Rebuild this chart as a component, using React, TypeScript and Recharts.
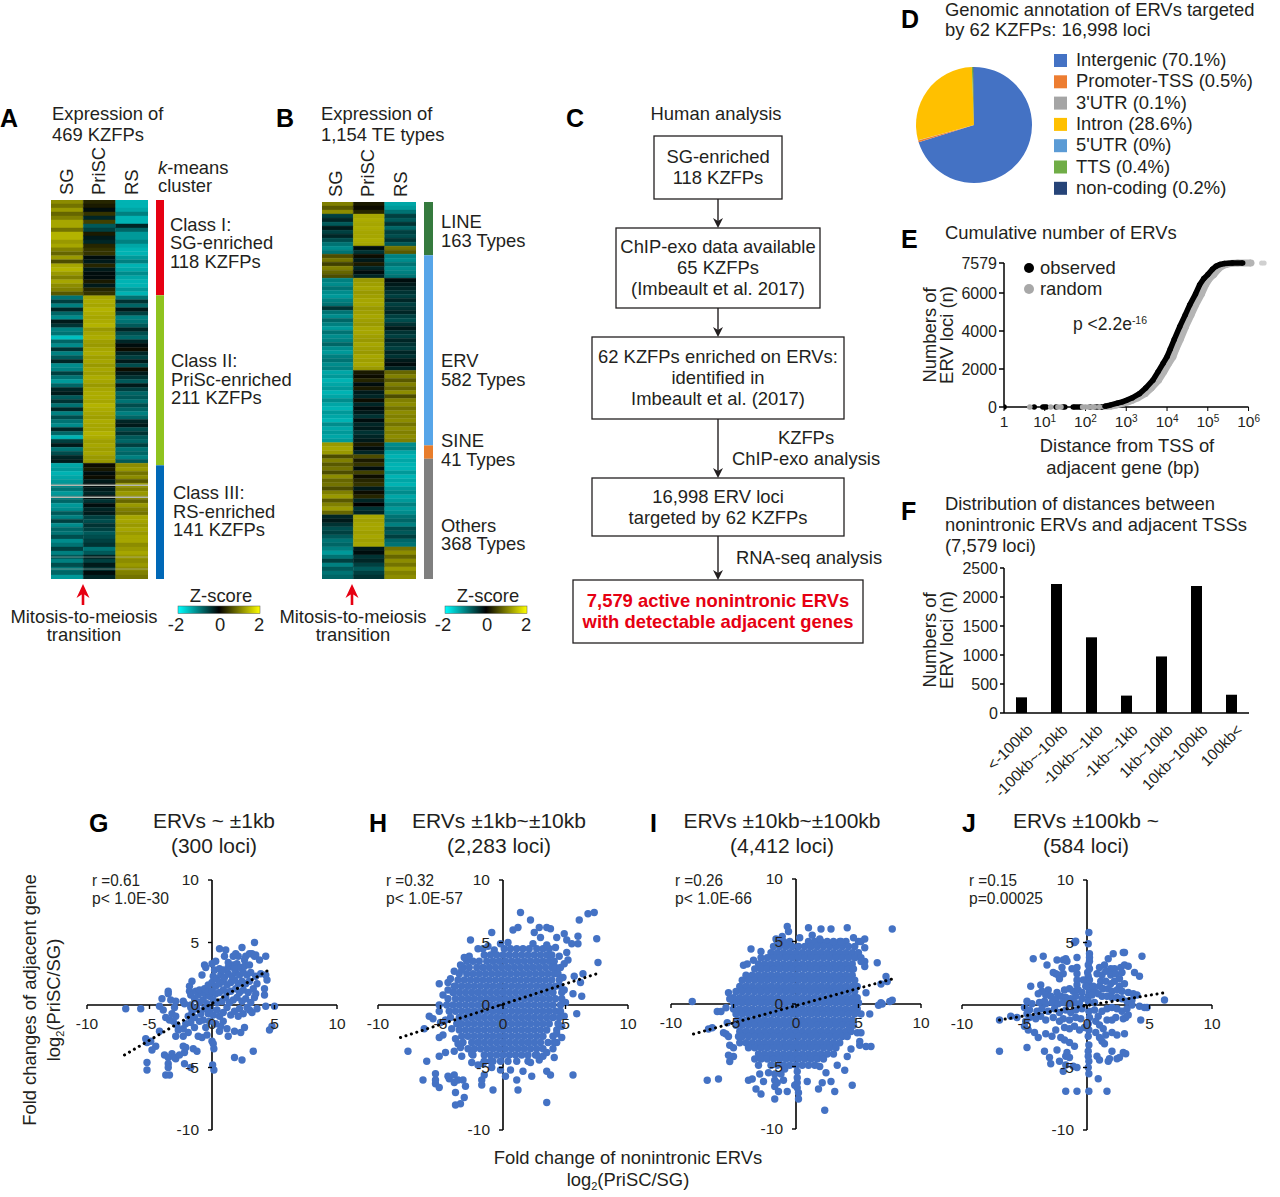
import React from 'react';
import {
  Bar, BarChart, Cell, Pie, PieChart, ReferenceLine, Scatter, ScatterChart, XAxis, YAxis,
} from 'recharts';

const FONT = '"Liberation Sans", Arial, sans-serif';
const INK = '#231f20';
const BLUE = '#4472c4';

// heatmap z-scores, top to bottom
const heatA_SG = [1.1,0.9,1.2,0.8,1.0,1.3,1.3,0.9,1.4,1.4,1.2,1.3,1.0,0.8,1.2,0.6,1.3,1.4,1.2,1.0,1.3,1.1,1.0,0.7,
  -0.9,-0.5,-1.0,-0.3,-0.8,-1.1,-0.2,-0.4,-1.0,-0.9,-1.5,-0.8,-1.1,-0.4,-1.0,-0.7,-0.3,-1.1,-1.0,-0.5,-0.9,-1.2,-0.8,-0.3,-0.2,-0.7,-0.4,-0.9,-0.3,-1.0,-0.6,-0.9,-1.1,-0.3,-0.8,-1.4,-0.5,-0.2,-0.9,-0.6,-0.3,-0.2,
  -1.3,-1.2,-1.4,-1.3,-1.2,-1.1,-0.9,-1.2,-1.0,-0.8,-1.2,-1.1,-0.7,-1.0,-0.5,-1.1,-0.8,-0.9,-0.6,-1.1,-0.9,-0.5,-1.0,-0.7,-1.0,-0.6,-0.9,-0.8,-1.2];
const heatA_PriSC = [0.3,0.2,-0.1,0.4,-0.3,0.5,-0.7,-0.5,0.2,-0.2,-0.3,0.3,0.4,0.4,-0.1,-0.2,0.3,-0.2,-0.1,-0.1,0.2,-0.2,0.3,0.4,
  1.3,1.35,1.3,1.4,1.35,1.3,1.35,1.4,1.2,1.3,1.35,1.25,1.2,1.3,1.35,1.25,1.3,1.2,1.3,1.25,1.35,1.3,1.2,1.3,1.35,1.35,1.3,1.4,1.35,1.3,1.25,1.35,1.3,1.3,1.4,1.35,1.25,1.3,1.25,1.3,1.2,1.2,
  0.1,0.2,-0.1,0.1,-0.2,-0.1,-0.2,-0.3,-0.1,-0.4,-0.1,-0.3,-0.2,-0.5,-0.6,-0.4,-0.5,-0.7,-0.6,-0.5,-0.4,-0.9,-0.7,-0.3,-0.5,-0.2,-0.4,-0.1,-0.3];
const heatA_RS = [-1.4,-1.4,-1.3,-1.0,-1.4,-1.4,-0.3,-0.8,-1.2,-1.2,-1.0,-1.3,-1.4,-1.4,-1.2,-1.0,-1.4,-1.3,-1.1,-1.3,-1.4,-1.4,-1.2,-1.4,
  -0.9,-0.4,-0.8,-0.2,-0.5,-1.0,-0.9,-0.7,-0.3,-0.6,-0.8,-0.3,-0.1,0.1,-0.3,-0.5,-0.2,-0.6,0.1,-0.2,-0.4,-0.7,-0.2,-0.5,-0.8,-0.7,-0.9,-0.6,-0.8,-1.0,-0.8,-0.3,-0.2,-0.6,-0.4,-0.7,-0.8,-0.5,-0.9,-0.8,-1.0,-0.7,
  1.1,1.2,0.9,1.1,0.7,1.2,1.0,1.2,1.1,0.8,1.2,1.0,0.9,1.3,1.3,1.2,1.3,1.2,1.3,1.3,1.1,1.2,1.3,1.2,1.1,1.2,1.1,1.0,0.9];
const heatB_SG = [1.0,0.7,1.1,
  -0.5,-0.3,-0.7,-0.2,-0.5,-0.3,-0.6,-0.9,-1.1,-0.9,
  0.6,0.9,0.5,1.0,0.8,0.6,
  -1.0,-1.1,-0.9,-1.1,-1.2,-1.0,-0.9,-0.4,-0.9,-1.1,-0.8,-1.0,-1.2,-0.9,-1.1,-1.0,-0.8,-1.1,-1.2,-1.0,-0.9,-1.1,-1.0,
  -1.3,-1.2,-1.4,-1.3,-1.2,-1.4,-1.3,-1.1,-1.3,-1.4,-1.2,-1.3,-1.4,-1.1,-1.3,-1.2,-1.3,-1.2,
  1.2,1.3,1.2,0.6,1.0,0.7,0.9,0.6,1.1,0.8,0.9,0.6,1.0,1.2,0.7,1.0,1.2,0.8,
  -0.3,-0.2,-0.4,-0.6,-0.5,-0.7,-0.9,-0.8,
  -1.0,-1.2,-0.9,-0.5,-1.0,-0.7,-0.9,-0.8];
const heatB_PriSC = [0.2,0.1,0.3,
  1.3,1.35,1.3,1.35,1.3,1.3,1.35,1.3,-0.1,-0.4,
  0.1,-0.2,0.2,-0.3,-0.1,-0.3,
  1.2,1.25,1.3,1.2,1.25,1.3,1.3,1.2,1.25,1.3,1.25,1.2,1.3,1.3,1.25,1.2,1.3,1.25,1.2,1.3,1.25,1.3,1.2,
  0.2,0.1,0.3,-0.1,0.2,-0.2,-0.3,0.1,-0.3,-0.1,-0.2,-0.4,-0.1,-0.3,-0.2,-0.4,-0.3,-0.2,
  0.2,-0.1,-0.3,0.6,0.2,0.4,-0.1,0.5,0.1,0.3,0.4,-0.2,0.1,0.3,-0.3,0.0,-0.4,-0.3,
  1.3,1.25,1.3,1.3,1.25,1.3,1.25,1.3,
  -0.2,-0.1,-0.4,-0.3,-0.5,-0.7,-0.5,-0.4];
const heatB_RS = [-1.3,-1.2,-0.9,
  -0.5,-0.7,-0.4,-0.8,-0.5,-0.6,-0.4,-0.7,0.9,0.7,
  -1.0,-1.1,-0.9,-1.1,-1.0,-0.9,
  -0.1,-0.2,-0.3,-0.4,-0.5,-0.3,-0.5,-0.4,-0.3,-0.5,-0.6,-0.4,-0.2,-0.4,-0.5,-0.3,-0.4,-0.5,-0.3,-0.4,-0.2,-0.1,-0.3,
  0.8,1.0,0.7,1.0,0.8,1.1,0.6,1.0,1.1,0.9,1.1,1.0,1.1,0.9,1.1,1.0,1.1,1.0,
  -1.1,-1.0,-1.3,-1.4,-1.3,-1.4,-1.4,-1.2,-1.4,-1.3,-1.4,-1.2,-1.1,-1.3,-1.2,-1.0,-1.2,-1.1,
  -0.9,-0.8,-1.0,-0.6,-0.7,-0.5,-0.8,-0.9,
  0.9,1.1,0.8,1.1,0.9,1.2,1.0,1.1];
const grayRowsA = [71, 74];
const fadedRowsA = [89, 92];
const sideBarsA = [{ name: 'Class I', value: 118, fill: '#e60012' }, { name: 'Class II', value: 211, fill: '#8fc31f' }, { name: 'Class III', value: 141, fill: '#0068b7' }];
const sideBarsB = [{ name: 'LINE', value: 163, fill: '#357a3e' }, { name: 'ERV', value: 582, fill: '#57a5e8' }, { name: 'SINE', value: 41, fill: '#e87d2c' }, { name: 'Others', value: 368, fill: '#7f7f7f' }];

// panel D
const pieNames = ['Intergenic', 'Promoter-TSS', "3'UTR", 'Intron', "5'UTR", 'TTS', 'non-coding'];
const pieValues = [70.1, 0.5, 0.1, 28.6, 0, 0.4, 0.2];
const pieLabels = ['70.1%', '0.5%', '0.1%', '28.6%', '0%', '0.4%', '0.2%'];
const pieColors = ['#4472c4', '#ed7d31', '#a5a5a5', '#ffc000', '#5b9bd5', '#70ad47', '#264478'];

// panel E
const observedCurve = [[300,40],[400,100],[600,200],[800,270],[1000,350],[1400,480],[2100,700],[3000,1000],[4500,1410],[6000,1850],[8000,2300],[10000,2650],[12000,3050],[15000,3550],[20500,4230],[28000,4850],[36000,5370],[50000,5950],[63000,6430],[80000,6760],[100000,6970],[130000,7250],[160000,7410],[200000,7500],[257000,7550],[400000,7579],[720000,7579]];
const randomCurve = [[400,40],[560,100],[830,200],[1100,270],[1400,350],[1900,480],[2900,700],[4100,1000],[6200,1410],[8300,1850],[11000,2300],[14000,2650],[16500,3050],[21000,3550],[28500,4230],[39000,4850],[50000,5370],[70000,5950],[88000,6430],[110000,6760],[140000,6970],[180000,7250],[220000,7410],[280000,7500],[350000,7550],[540000,7579],[1150000,7579]];
const observedBaseline = [1, 5.5, 9, 10, 11, 19, 28, 31, 50, 55, 62, 70, 78, 130, 175, 200, 240, 260];
const randomBaseline = [4.3, 14, 21, 25, 85, 100, 120, 145, 165, 220, 290, 340];
const randomTail = [1200000, 2100000, 2400000];
const distTicks = [1, 10, 100, 1000, 10000, 100000, 1000000];
const lociTicks = [0, 2000, 4000, 6000, 7579];
const distAxisEnds = [{ x: 1, y: 0 }, { x: 1000000, y: 0 }];

// panel F
const distCategories = ['<-100kb', '-100kb~-10kb', '-10kb~-1kb', '-1kb~-1kb', '1kb~10kb', '10kb~100kb', '100kb<'];
const distCounts = [270, 2225, 1305, 300, 975, 2190, 315];
const countTicks = [0, 500, 1000, 1500, 2000, 2500];

// panels G-J, log2 fold changes [ERV, adjacent gene]
const foldTicks = [-10, -5, 0, 5, 10];
const pointsG = [[-6.9,-.3],[-5.7,-.3],[-4,.5],[-3.5,1.1],[-3.5,.9],[-4.2,-.1],[-3.9,-.4],[-3.3,.4],[-2.9,.3],[-3,-.2],[-2.3,.3],[-1.8,1.5],[-1.8,1.1],[-1.7,.8],[-2.2,.1],[-1.7,0],[-1.6,1.9],[-3.7,-1],[-3.4,-1.2],[-3.1,-1.3],[-2.9,-.9],[-3.2,-.7],[-5.3,-2.7],[-5.2,-3],[-4.9,-2.9],[-4.8,-3.6],[-5.2,-4.6],[-5.2,-5.2],[-4.2,-2.1],[-4.5,-3.3],[-3.8,-4],[-3.5,-4.2],[-3.5,-4.7],[-3.5,-5],[-3.7,-5.6],[-3.4,-5.6],[-3.2,-3.9],[-3,-4.2],[-2.9,-4.3],[-2.6,-4],[-2.2,-3.8],[-2.1,-3.4],[-2.3,-3.3],[-1.5,-3.5],[-1.2,-3.7],[-2.2,-4.7],[-1.7,-5],[-2.9,-2.5],[-2.7,-2],[-2.8,-1.6],[-2.3,-2.5],[-2.3,-1.9],[-1.9,-2.2],[-2.1,-1.5],[-1.7,-1.4],[-1.4,-1.8],[-1.4,-1],[-1,-1.3],[-1.1,-2.5],[-.8,-2.6],[-.9,-.7],[-.7,-1.2],[-.5,-1.8],[-.4,-2.4],[0,-2.9],[.1,-3.1],[.15,-3.5],[.05,-4.8],[.15,-5.2],[1.8,-4.2],[2.4,-4.4],[3.3,-3.7],[1.3,-2.5],[1.2,-1.9],[1.8,-2.1],[2.3,-2.2],[2.6,-1.8],[4.6,-2],[4.8,-1.7],[.6,-2.1],[.9,-1.3],[-1.6,-.6],[-1.9,-.9],[-1.2,-.3],[-1,.2],[-.7,.4],[-.4,.1],[-.1,-.3],[-.3,-.7],[.1,-.8],[.4,-.4],[.6,-.9],[.9,-.6],[1.2,-.2],[1.5,-.8],[1.8,-.5],[2.2,-.3],[2.5,-.7],[2.8,-.2],[3,-.4],[3.6,-.3],[2.1,-.9],[-1.4,.5],[-1.1,.8],[-.8,1],[-.5,.8],[-.2,.7],[.1,.4],[.4,.2],[.8,.3],[1.1,.6],[1.4,.2],[1.7,.4],[2,.6],[2.4,.3],[2.7,.5],[3.1,.2],[3.4,.6],[-1.3,1.1],[-1,1.2],[-.6,1.3],[-.3,1.1],[0,1.1],[.3,.9],[.6,1],[.9,1.2],[1.2,1],[1.5,1.1],[1.9,1.3],[2.2,1],[2.5,1.2],[2.9,1],[3.3,1.3],[3.5,.9],[4.2,.8],[4.2,1.3],[-.3,1.6],[0,1.8],[.3,1.5],[.6,1.7],[.9,1.9],[1.2,1.6],[1.5,1.8],[1.8,2],[2.1,1.7],[2.4,1.9],[2.7,1.7],[3,1.9],[3.6,1.7],[4.4,2],[4.3,2.4],[.1,2.3],[.4,2.1],[.7,2.4],[1,2.2],[1.3,2.5],[1.6,2.3],[1.9,2.6],[2.2,2.4],[2.5,2.6],[2.8,2.4],[3.1,2.6],[3.5,2.3],[3.9,2.5],[-.8,2.4],[.2,2.8],[.6,2.9],[.9,2.8],[1.3,3],[1.7,3.2],[2,3.3],[1.8,2.9],[2.3,3],[2.6,3.1],[3,3.2],[-.6,3.2],[-.5,3],[0,3.3],[.3,3.5],[1.3,3.4],[1,3.9],[.6,4.5],[1.1,4.4],[1.7,3.9],[1.9,4.1],[2.1,3.9],[2.4,4.6],[2.6,3.6],[2.7,3.9],[3,4.1],[3.2,4.1],[3.4,3.9],[3.5,4],[3.4,5],[3.8,3.6],[4.3,3.9],[5,-.1],[4.3,-.1],[3.2,-.6],[.7,-1.7],[.3,-1.5],[-.2,-1.3],[-.6,-.3],[-1.7,-.2]];
const outliersH = [[1.4,7.4],[2.2,6.8],[6.8,7.3],[7.3,7.4],[6.1,6.8],[.8,6],[1.2,6.2],[2.5,5.8],[2.9,6.2],[3.5,6.2],[3.8,6.1],[3,5.4],[4.9,5.7],[6,5.5],[7.5,5.3],[5.1,5.2],[4.3,5.4],[-.9,5.8],[-2.6,5.2],[.4,5],[-.2,4.9],[7.6,3.4],[6,4.9],[5.5,4.9],[5.1,4.2],[5.2,3.6],[4.9,3.3],[6.4,2.5],[5.7,2.3],[6.2,1.8],[5.6,.9],[5.9,-.7],[6.3,.7],[-5.1,1.7],[-4.4,1.8],[-3.9,1.5],[-4.8,.8],[-5.1,0],[-5.1,-.5],[-5.9,-.9],[-5.6,-1.1],[-5,-1.4],[-6.3,-1.9],[-5.1,-2.6],[-4.8,-2.4],[-7.6,-3.7],[-6.1,-4.5],[-5.1,-4.1],[-4.6,-3.8],[-3.9,-3.7],[-3.4,-3.4],[-3.3,-4.1],[-6.4,-6],[-5.4,-5.5],[-5.4,-6.3],[-5.4,-6],[-5.1,-6.6],[-3.9,-6.2],[-4.3,-5.9],[-4.4,-5.7],[-3.9,-5.6],[-3.6,-6],[-3,-6.5],[-3.2,-6],[-1.7,-6.4],[-1.7,-6],[-.8,-6.8],[-3.8,-7],[-3.1,-7.4],[-3.4,-7.9],[-3.8,-8],[-1.5,-5.6],[.2,-5.7],[1.1,-6],[1.2,-6.8],[2.3,-5.7],[3.5,-5.3],[3.8,-5.6],[5.6,-5.6],[3.5,-7.8],[-2.5,-4.6],[-2,-4.8],[-1.6,-4.7],[-.9,-5],[-.2,-5.2],[.6,-5.2],[1.6,-5.3],[2.2,-4.6],[2.9,-4.4],[3.2,-4.1],[4.1,-4.2],[4.3,-3],[4.1,-3],[4.3,-2.3],[4.7,-1.7],[-2.5,-3.9],[3.5,-3.8],[-2.7,3.9],[-3.1,3.8],[-3.4,3.2],[-3.9,2.7],[-4.2,2.1],[-4.4,1.2],[-4.6,-1.2],[-4.1,-1.9],[-3.8,-2.7],[-3.6,-3.1],[-1.2,4.7],[-.7,4.4],[2.4,4.9],[3.5,4.8],[4.2,4.6],[4.5,3.9],[4.6,3],[4.8,2.2],[4.9,1.2],[5,.2],[4.9,-.9],[4.7,-2.6],[4,-3.5],[2.7,-4],[-1,-4.5],[-3.3,2.8]];
const coreH: [number, number[]][] = [
  [4.5,[-2,-1.6,.1,.6,1.1,1.6,2.1,2.7,3.2,3.7]],
  [4,[-1.5,-1,-.5,0,.5,1,1.5,2,2.5,3,3.5,3.9]],
  [3.5,[-2.9,-2.4,-1.9,-1.3,-.8,-.3,.2,.7,1.2,1.7,2.2,2.7,3.2,3.7,4.1]],
  [3,[-3.2,-2.7,-2.1,-1.6,-1.1,-.6,-.1,.4,.9,1.4,1.9,2.4,2.9,3.4,3.9,4.2]],
  [2.5,[-3.5,-2.9,-2.4,-1.9,-1.4,-.9,-.4,.1,.6,1.1,1.6,2.1,2.6,3.1,3.6,4.1,4.4]],
  [2,[-3.6,-3.1,-2.6,-2.1,-1.6,-1.1,-.6,-.1,.4,.9,1.4,1.9,2.4,2.9,3.4,3.9,4.5]],
  [1.5,[-3.8,-3.3,-2.8,-2.3,-1.8,-1.3,-.8,-.3,.2,.7,1.2,1.7,2.2,2.7,3.2,3.7,4.2,4.6]],
  [1,[-4,-3.5,-3,-2.5,-2,-1.5,-1,-.5,0,.5,1,1.5,2,2.5,3,3.5,4,4.7]],
  [.5,[-4.4,-3.8,-3.3,-2.8,-2.3,-1.8,-1.3,-.8,-.3,.2,.7,1.2,1.7,2.2,2.7,3.2,3.7,4.2,4.7]],
  [0,[-4.5,-4,-3.5,-3,-2.5,-2,-1.5,-1,-.5,0,.5,1,1.5,2,2.5,3,3.5,4,4.6]],
  [-.5,[-4.3,-3.8,-3.3,-2.8,-2.3,-1.8,-1.3,-.8,-.3,.2,.7,1.2,1.7,2.2,2.7,3.2,3.7,4.2,4.6]],
  [-1,[-4.2,-3.5,-3,-2.5,-2,-1.5,-1,-.5,0,.5,1,1.5,2,2.5,3,3.5,4,4.5]],
  [-1.5,[-3.7,-3.3,-2.8,-2.3,-1.8,-1.3,-.8,-.3,.2,.7,1.2,1.7,2.2,2.7,3.2,3.7,4.4]],
  [-2,[-3.5,-3,-2.5,-2,-1.5,-1,-.5,0,.5,1,1.5,2,2.5,3,3.5,4.3]],
  [-2.5,[-3.3,-2.8,-2.3,-1.8,-1.3,-.8,-.3,.2,.7,1.2,1.7,2.2,2.7,3.2,4]],
  [-3,[-3.2,-2.5,-2,-1.5,-1,-.5,0,.5,1,1.5,2,2.5,3,3.6]],
  [-3.5,[-2.8,-2.3,-1.8,-1.3,-.8,-.3,.2,.7,1.2,1.7,2.2,2.7,3.2]],
  [-4,[-2.4,-1.5,-1,-.5,0,.5,1,1.5,2,2.6]],
  [-4.5,[-1.5,-.8,-.2,.4,1.1,2]],
];
const outliersI = [[-8.3,.2],[-6.3,-.6],[-6,-.6],[-5.5,-1.5],[-6.7,-1.9],[-7,-2],[-5.8,-2.3],[-5.6,-2.4],[-5.4,-2.6],[-5.3,-3.3],[-5,-3.5],[-5,-4.2],[-5.3,-4.6],[-5.4,-4.1],[-7.1,-6.1],[-6.2,-6],[-3.8,-6.1],[-3.5,-6],[-3.2,-6.8],[-2.8,-7.2],[-1.7,-7.6],[-.7,-7],[.2,-7.6],[.9,-6.2],[1.8,-6.8],[2.1,-6.3],[2.8,-6.2],[3.1,-7],[4.5,-6.5],[3.9,-5.3],[2.3,-8.5],[6,-3.4],[5.1,-3.3],[5.1,-3],[5.6,-3.4],[7.7,6],[1,6.1],[-.7,6.2],[-.6,5.8],[2,6],[2.8,6],[4.1,6.1],[-3.6,4.4],[5.5,5.2],[5.2,5],[5.5,4.5],[5.5,3.4],[5.2,3.4],[6.5,3.3],[5.5,3],[7.2,2.2],[7.3,1.8],[6.8,1.6],[5.6,.9],[6.6,-.1],[6.9,0],[7.7,.3],[7.5,.2],[6.8,.1],[5.2,-.8],[5.9,-.8],[4.9,-2.3],[5.2,-2.3],[4.4,-3.6],[4.1,-4.2],[3.3,-4.9],[2.4,-5.5],[1.9,-5],[.1,-5.4],[.1,-5.9],[.1,-6.3],[.1,-6.7],[.2,-7.1],[-.1,-6.5],[-1.7,-5.6],[-1.7,-6.1],[-1.7,-6.6],[-1.4,-7],[-1.5,-6.3],[-1,-6.1],[-1.2,-5.6],[-.9,-5.2],[-2.2,-5.5],[-2.6,-6.2],[-2.9,-5.6],[-5.6,-.3],[-5.4,.9],[-5.3,.4],[-4.2,3.1],[-3.9,3.2],[-3.4,3.5],[-2.8,4.2],[-1.6,5.2],[-1.1,5.4],[.3,5.3],[1.3,5.5],[1.9,5.2],[3,5],[3.6,5],[4.6,5.3]];
const coreI: [number, number[]][] = [
  [5,[-1.5,-1,-.5,1,1.5,2,2.5,3.5,4,5]],
  [4.6,[-1.8,-1.3,-.8,-.3,.2,.7,1.2,1.7,2.2,2.7,3.2,3.7,4.2,4.7]],
  [4.1,[-2,-1.5,-1,-.5,0,.5,1,1.5,2,2.5,3,3.5,4,4.5,5]],
  [3.7,[-2.8,-2.3,-1.8,-1.3,-.8,-.3,.2,.7,1.2,1.7,2.2,2.7,3.2,3.7,4.2,4.7,5.2]],
  [3.2,[-3,-2.5,-2,-1.5,-1,-.5,0,.5,1,1.5,2,2.5,3,3.5,4,4.5]],
  [2.8,[-3.3,-2.8,-2.3,-1.8,-1.3,-.8,-.3,.2,.7,1.2,1.7,2.2,2.7,3.2,3.7,4.2,4.6]],
  [2.3,[-4,-3.5,-3,-2.5,-2,-1.5,-1,-.5,0,.5,1,1.5,2,2.5,3,3.5,4,4.5]],
  [1.9,[-4.3,-3.8,-3.3,-2.8,-2.3,-1.8,-1.3,-.8,-.3,.2,.7,1.2,1.7,2.2,2.7,3.2,3.7,4.2,4.7]],
  [1.4,[-4.5,-4,-3.5,-3,-2.5,-2,-1.5,-1,-.5,0,.5,1,1.5,2,2.5,3,3.5,4,4.5,4.9]],
  [1,[-4.8,-4.3,-3.8,-3.3,-2.8,-2.3,-1.8,-1.3,-.8,-.3,.2,.7,1.2,1.7,2.2,2.7,3.2,3.7,4.2,4.7]],
  [.5,[-5,-4.5,-4,-3.5,-3,-2.5,-2,-1.5,-1,-.5,0,.5,1,1.5,2,2.5,3,3.5,4,4.5,4.9]],
  [.1,[-5,-4.8,-4.3,-3.8,-3.3,-2.8,-2.3,-1.8,-1.3,-.8,-.3,.2,.7,1.2,1.7,2.2,2.7,3.2,3.7,4.2,4.7,5]],
  [-.4,[-5,-4.5,-4,-3.5,-3,-2.5,-2,-1.5,-1,-.5,0,.5,1,1.5,2,2.5,3,3.5,4,4.5,4.9]],
  [-.8,[-4.8,-4.3,-3.8,-3.3,-2.8,-2.3,-1.8,-1.3,-.8,-.3,.2,.7,1.2,1.7,2.2,2.7,3.2,3.7,4.2,4.7]],
  [-1.3,[-4.7,-4.5,-4,-3.5,-3,-2.5,-2,-1.5,-1,-.5,0,.5,1,1.5,2,2.5,3,3.5,4,4.5]],
  [-1.7,[-4.8,-4.3,-3.8,-3.3,-2.8,-2.3,-1.8,-1.3,-.8,-.3,.2,.7,1.2,1.7,2.2,2.7,3.2,3.7,4.2,4.6]],
  [-2.2,[-4.5,-4,-3.5,-3,-2.5,-2,-1.5,-1,-.5,0,.5,1,1.5,2,2.5,3,3.5,4,4.4]],
  [-2.6,[-4.6,-4.3,-3.8,-3.3,-2.8,-2.3,-1.8,-1.3,-.8,-.3,.2,.7,1.2,1.7,2.2,2.7,3.2,3.7,4.1]],
  [-3.1,[-4.5,-4,-3.5,-3,-2.5,-2,-1.5,-1,-.5,0,.5,1,1.5,2,2.5,3,3.5]],
  [-3.5,[-3.8,-3.3,-2.8,-2.3,-1.8,-1.3,-.8,-.3,.2,.7,1.2,1.7,2.2,2.7,3.2]],
  [-4,[-3,-2.5,-2,-1.5,-1,-.5,0,.5,1,1.5,2,2.5,3]],
  [-4.4,[-3.3,-2.8,-2.3,-1.8,-1.3,-.8,-.3,.2,.7,1.2,1.7,2.2]],
  [-4.9,[-3,-2,-1.5,-1,-.5,0,.5,1,1.5]],
];
const pointsJ = [[.15,5.8],[.1,4.9],[-.9,5.1],[-1,5],[.2,4.1],[.2,3.8],[.2,3.5],[.1,3.2],[.2,2.9],[.05,2.6],[.1,2.3],[.2,2],[.1,1.7],[.1,1.4],[.2,1.1],[.1,.7],[.1,.3],[3,4.2],[2.9,4.2],[2.1,4.1],[4.4,3.9],[-4.3,3.7],[-3.5,3.9],[-2.4,3.6],[-1.9,3.6],[-1.7,3.7],[-1.6,3.5],[-.8,3.8],[-3.2,3.2],[-2.5,2.5],[-2.7,2.6],[-2.3,2.4],[-2.2,2.1],[-1.2,2.9],[-.8,3],[-.8,2.5],[-.8,2],[-.8,1.6],[1.4,3.2],[1.7,3.7],[1.9,2.9],[2.2,2.9],[2.7,3],[3,3.2],[3.3,3.1],[3.8,2.6],[4.2,2.3],[1,3],[.8,2.5],[1.2,2.4],[1.5,2.7],[1.9,2.4],[2.3,2.5],[2.6,2.1],[2.8,2.6],[1.1,1.9],[1.5,1.9],[1.9,1.7],[2.2,1.9],[2.6,1.5],[3,1.7],[1,1.5],[1.3,1.3],[1.7,1.3],[2,1.1],[2.4,1.2],[2.8,1.1],[3.3,1],[3.7,.9],[4,.8],[.6,1.1],[.9,.9],[1.2,.7],[1.6,.7],[2,.6],[2.4,.6],[2.8,.5],[3.2,.3],[3.6,.4],[-1.4,1.3],[-1.1,1.1],[-.7,1.2],[-.4,1],[-1.8,1.2],[-2.4,1],[-3.1,1.2],[-3.6,1.1],[-3.9,.9],[-4.5,1.5],[-3.7,1.6],[-3.3,.8],[-2.9,.7],[-2.5,.5],[-2.1,.7],[-1.7,.6],[-1.3,.5],[-.9,.7],[-.4,.5],[-4.8,.3],[-4.4,.1],[-3.8,.2],[-3.3,.1],[-2.8,.2],[-2.3,.1],[-1.9,.2],[-1.4,.1],[-1,.2],[-.6,.1],[-5,-.2],[-4.6,-.4],[-4,-.5],[-3.6,-.3],[-3.1,-.5],[-2.6,-.3],[-2.2,-.6],[-1.7,-.4],[-1.3,-.6],[-.9,-.4],[-.4,-.3],[-6.1,-.9],[-5.6,-1],[-4.9,-1.3],[-4.6,-1],[-4.1,-1.1],[-3.7,-.9],[-3.3,-1.2],[-2.7,-1],[-2.2,-1.3],[-1.9,-1.1],[-1.4,-1.2],[-.9,-1],[-.5,-1.1],[-5,-1.7],[-4.7,-2],[-4.2,-2.2],[-3.9,-2.6],[-3.3,-2.3],[-2.8,-2.5],[-2.5,-2],[-2.1,-2.6],[-1.8,-1.8],[-1.4,-1.9],[-1,-1.7],[-.6,-2],[-.2,-1.8],[-4.8,-3.4],[-3.4,-3.7],[-2.4,-3.6],[-3,-4.2],[-2.2,-4.5],[-2.9,-4.7],[-1.9,-5.3],[-1.7,-4.8],[-1.7,-4.1],[-1.6,-3.8],[-1.4,-4.2],[-1.4,-3],[-1,-3.3],[-1.8,-2.8],[-1.1,-4.9],[-.8,-5],[.15,-3.2],[.1,-3.7],[.1,-4.1],[.15,-4.5],[.1,-5],[.15,-5.5],[.15,-6.9],[.9,-5.9],[-1.7,-6.9],[-.8,-6.9],[1.6,-6.9],[-7,-3.7],[-7,-1.2],[.15,-.5],[.2,-1],[.1,-1.5],[.15,-2],[.1,-2.5],[.6,-.4],[.9,-.9],[1.2,-.5],[1.6,-.3],[2,-.2],[2.4,-.3],[2.8,-.5],[3.2,-.3],[3.6,0],[4.2,-.1],[4.6,-.2],[4.8,-.2],[6.2,.4],[4.3,-1.2],[.7,-1.3],[1,-1.6],[1.3,-1.9],[1.6,-1.2],[2,-1.2],[2.3,-1],[2.9,-1.1],[3.1,-1],[3.3,-.8],[.7,-2.2],[1,-2.6],[1.2,-2.9],[1.4,-3.1],[1.5,-2.4],[2,-2.2],[2.4,-2.4],[3,-2.3],[2.9,-3.8],[3.1,-3.9],[2.6,-4.2],[2.4,-4.3],[2,-3.7],[1.8,-4.3],[1.7,-4.5],[.8,-4.1],[1,-4.4],[-1.9,2.5],[-2,3],[-3.4,.3],[-.1,1.5],[-.3,2],[.5,1.5],[.4,.8],[.6,.2],[-4.8,-.7]];
const trendG = [{ x: -7, y: -4 }, { x: 4.7, y: 2.9 }];
const trendH = [{ x: -8.2, y: -2.6 }, { x: 7.5, y: 2.5 }];
const trendI = [{ x: -8.2, y: -2.4 }, { x: 7.7, y: 2 }];
const trendJ = [{ x: -7, y: -1.2 }, { x: 6.3, y: 1 }];

const toXY = (pts: number[][]) => pts.map(([x, y]) => ({ x, y }));
const fromRows = (rows: [number, number[]][]) => rows.flatMap(([y, xs]) => xs.map((x) => ({ x, y })));

const zColor = (z: number) => {
  const t = Math.min(Math.abs(z) / 2, 1);
  const v = Math.round(255 * t);
  return z >= 0 ? `rgb(${v},${v},0)` : `rgb(0,${v},${v})`;
};

const T = ({ x, y, size = 18.4, anchor = 'start', weight = 'normal', rot, len, fill = INK, children }: any) => (
  <text
    x={x} y={y} fontSize={size} textAnchor={anchor} fontWeight={weight} fill={fill} fontFamily={FONT}
    transform={rot ? `rotate(${rot} ${x} ${y})` : undefined}
    {...(len ? { textLength: len, lengthAdjust: 'spacingAndGlyphs' } : {})}
  >
    {children}
  </text>
);

const Heatmap = ({ left, top, width, height, sg, pri, rs, grayRows = [], fadedRows = [] }: any) => {
  const rows = sg.map((_: number, i: number) => ({ row: i, SG: 1, PriSC: 1, RS: 1 }));
  const cols = [['SG', sg], ['PriSC', pri], ['RS', rs]] as [string, number[]][];
  return (
    <div style={{ position: 'absolute', left, top }}>
      <BarChart width={width} height={height} data={rows} layout="vertical" barCategoryGap={0} margin={{ top: 0, right: 0, bottom: 0, left: 0 }}>
        <XAxis type="number" hide domain={[0, 3]} />
        <YAxis type="category" dataKey="row" hide />
        {cols.map(([key, vals]) => (
          <Bar key={key} dataKey={key} stackId="h" isAnimationActive={false}>
            {rows.map((r: any) => {
              const c = zColor(vals[r.row] ?? 0);
              return <Cell key={r.row} fill={c} stroke={c} strokeWidth={0.4} />;
            })}
          </Bar>
        ))}
        {grayRows.map((r: number) => <ReferenceLine key={r} y={r} stroke="#b4b8b0" strokeWidth={1.5} />)}
        {fadedRows.map((r: number) => <ReferenceLine key={r} y={r} stroke="#b4b8b0" strokeOpacity={0.55} strokeWidth={1} />)}
      </BarChart>
    </div>
  );
};

const SideBar = ({ left, top, width, height, items }: any) => {
  const row = [Object.fromEntries(items.map((d: any) => [d.name, d.value]))];
  const total = items.reduce((s: number, d: any) => s + d.value, 0);
  return (
    <div style={{ position: 'absolute', left, top }}>
      <BarChart width={width} height={height} data={row} barCategoryGap={0} margin={{ top: 0, right: 0, bottom: 0, left: 0 }}>
        <XAxis hide />
        <YAxis hide reversed domain={[0, total]} />
        {items.map((d: any) => <Bar key={d.name} dataKey={d.name} stackId="s" fill={d.fill} isAnimationActive={false} />)}
      </BarChart>
    </div>
  );
};

const PAD = 24;
const SIZE = 250;
const Dot = ({ cx, cy }: any) => <circle cx={cx} cy={cy} r={3.7} fill={BLUE} />;
const NoDot = () => null;

const FoldPanel = ({ x0, y0, data, trend }: any) => {
  const mid = PAD + SIZE / 2;
  const common = {
    width: SIZE + PAD * 2,
    height: SIZE + PAD * 2,
    // the axes take 1px each, so the plot stays exactly SIZE wide and high
    margin: { top: PAD, right: PAD, bottom: PAD - 1, left: PAD - 1 },
  };
  const xTick = ({ x, payload }: any) => (
    <g>
      <line x1={x} x2={x} y1={mid} y2={mid + 4} stroke="#000" strokeWidth={1.4} />
      <text x={x} y={mid + 24} textAnchor="middle" fontSize={15.5} fontFamily={FONT} fill={INK}>{payload.value}</text>
    </g>
  );
  const yTick = ({ y, payload }: any) => (
    <g>
      <line x1={mid - 4} x2={mid} y1={y} y2={y} stroke="#000" strokeWidth={1.4} />
      <text x={mid - 13} y={y + 5} textAnchor="end" fontSize={15.5} fontFamily={FONT} fill={INK}>{payload.value}</text>
    </g>
  );
  const axes = (showTicks: boolean) => [
    <XAxis key="x" type="number" dataKey="x" domain={[-10, 10]} ticks={foldTicks} interval={0} height={1} axisLine={false} tickLine={false} tick={showTicks ? xTick : false} />,
    <YAxis key="y" type="number" dataKey="y" domain={[-10, 10]} ticks={foldTicks} interval={0} width={1} axisLine={false} tickLine={false} tick={showTicks ? yTick : false} />,
  ];
  return (
    <div style={{ position: 'absolute', left: x0 - PAD, top: y0 - PAD }}>
      <div style={{ position: 'absolute', left: 0, top: 0 }}>
        <ScatterChart {...common}>
          {axes(false)}
          <ReferenceLine x={0} stroke="#000" strokeWidth={1.6} />
          <ReferenceLine y={0} stroke="#000" strokeWidth={1.6} />
          <Scatter data={data} shape={Dot} isAnimationActive={false} />
        </ScatterChart>
      </div>
      <div style={{ position: 'absolute', left: 0, top: 0 }}>
        <ScatterChart {...common}>
          {axes(true)}
          <Scatter data={trend} shape={NoDot} isAnimationActive={false} />
          <ReferenceLine segment={trend} stroke="#000" strokeWidth={3} strokeDasharray="0.1 5.6" strokeLinecap="round" />
        </ScatterChart>
      </div>
    </div>
  );
};

const dotOf = (fill: string, r: number) => ({ cx, cy }: any) => <circle cx={cx} cy={cy} r={r} fill={fill} />;

const CumulativeChart = () => {
  const xTick = ({ x, y, payload }: any) => {
    const p = Math.round(Math.log10(payload.value));
    return p === 0 ? (
      <text x={x} y={y + 14} textAnchor="middle" fontSize={15.5} fontFamily={FONT} fill={INK}>1</text>
    ) : (
      <text x={x} y={y + 14} textAnchor="middle" fontSize={15.5} fontFamily={FONT} fill={INK}>
        10<tspan dy={-5} fontSize={10}>{p}</tspan>
      </text>
    );
  };
  return (
    <div style={{ position: 'absolute', left: 959, top: 251 }}>
      <ScatterChart width={319} height={187} margin={{ top: 12, right: 10, bottom: 0, left: 0 }}>
        <XAxis type="number" dataKey="x" scale="log" domain={[1, 3000000]} ticks={distTicks} interval={0} height={31} axisLine={false} stroke="#000" tickSize={4} tick={xTick} allowDataOverflow />
        <YAxis type="number" dataKey="y" domain={[0, 7579]} ticks={lociTicks} interval={0} width={45} stroke="#000" strokeWidth={1.5} tickSize={5} tick={{ fontSize: 16, fill: INK, fontFamily: FONT }} />
        <ReferenceLine segment={distAxisEnds} stroke="#000" strokeWidth={1.5} />
        <Scatter data={randomTail.map((x) => ({ x, y: 7579 }))} fill="#d0d0d0" shape={dotOf('#d0d0d0', 2.6)} isAnimationActive={false} />
        <Scatter data={toXY(randomCurve)} line={{ stroke: '#b4b4b4', strokeWidth: 7 }} shape={dotOf('#b4b4b4', 3.4)} isAnimationActive={false} />
        <Scatter data={observedBaseline.map((x) => ({ x, y: 0 }))} shape={dotOf('#000', 2.8)} isAnimationActive={false} />
        <Scatter data={randomBaseline.map((x) => ({ x, y: 0 }))} shape={dotOf('#a8a8a8', 2.8)} isAnimationActive={false} />
        <Scatter data={toXY(observedCurve)} line={{ stroke: '#000', strokeWidth: 5.5 }} shape={dotOf('#000', 2.7)} isAnimationActive={false} />
      </ScatterChart>
    </div>
  );
};

const DistanceBars = () => {
  const data = distCategories.map((name, i) => ({ name, n: distCounts[i] }));
  const tick = ({ x, y, payload }: any) => (
    <text x={x + 12} y={y + 10} textAnchor="end" fontSize={15.5} fontFamily={FONT} fill={INK} transform={`rotate(-45 ${x + 12} ${y + 10})`}>{payload.value}</text>
  );
  return (
    <div style={{ position: 'absolute', left: 959, top: 560 }}>
      <BarChart width={300} height={245} data={data} margin={{ top: 8, right: 10, bottom: 0, left: 0 }}>
        <XAxis dataKey="name" interval={0} height={92} stroke="#000" strokeWidth={1.5} tickLine={false} tick={tick} />
        <YAxis domain={[0, 2500]} ticks={countTicks} interval={0} width={45} stroke="#000" strokeWidth={1.5} tickSize={4} tick={{ fontSize: 16, fill: INK, fontFamily: FONT }} />
        <Bar dataKey="n" fill="#000" barSize={11} isAnimationActive={false} />
      </BarChart>
    </div>
  );
};

const AnnotationPie = () => {
  const data = pieNames.map((name, i) => ({ name, value: pieValues[i] }));
  return (
    <div style={{ position: 'absolute', left: 904, top: 55 }}>
      <PieChart width={140} height={140} margin={{ top: 0, right: 0, bottom: 0, left: 0 }}>
        <Pie data={data} dataKey="value" cx={70} cy={70} outerRadius={58} startAngle={90} endAngle={-270} stroke="none" isAnimationActive={false}>
          {data.map((d, i) => <Cell key={d.name} fill={pieColors[i]} />)}
        </Pie>
      </PieChart>
    </div>
  );
};

const flowBoxes = [
  { x: 654, y: 136, w: 128, h: 63, lines: ['SG-enriched', '118 KZFPs'] },
  { x: 616, y: 228, w: 204, h: 80, lines: ['ChIP-exo data available', '65 KZFPs', '(Imbeault et al. 2017)'] },
  { x: 592, y: 337, w: 252, h: 82, lines: ['62 KZFPs enriched on ERVs:', 'identified in', 'Imbeault et al. (2017)'] },
  { x: 592, y: 478, w: 252, h: 58, lines: ['16,998 ERV loci', 'targeted by 62 KZFPs'] },
];

const Flow = () => (
  <>
    {flowBoxes.map((b) => {
      const first = b.y + b.h / 2 - ((b.lines.length - 1) * 21) / 2 + 6;
      return (
        <g key={b.y}>
          <rect x={b.x} y={b.y} width={b.w} height={b.h} fill="#fff" stroke="#231f20" strokeWidth={1.3} />
          {b.lines.map((l, i) => <T key={l} x={b.x + b.w / 2} y={first + i * 21} anchor="middle">{l}</T>)}
        </g>
      );
    })}
    <rect x={573} y={580} width={290} height={63} fill="#fff" stroke="#231f20" strokeWidth={1.3} />
    <T x={718} y={607} anchor="middle" weight="bold" fill="#e60012">7,579 active nonintronic ERVs</T>
    <T x={718} y={628} anchor="middle" weight="bold" fill="#e60012">with detectable adjacent genes</T>
    {[[199, 228], [308, 337], [419, 478], [536, 580]].map(([a, b]) => (
      <g key={a}>
        <line x1={718} x2={718} y1={a} y2={b - 4} stroke="#231f20" strokeWidth={1.4} />
        <polygon points={`718,${b} 713,${b - 10} 718,${b - 7} 723,${b - 10}`} fill="#231f20" />
      </g>
    ))}
  </>
);

const RedArrow = ({ x }: { x: number }) => (
  <polygon points={`${x},584 ${x + 6.5},598 ${x + 1.3},594.5 ${x + 1.3},605 ${x - 1.3},605 ${x - 1.3},594.5 ${x - 6.5},598`} fill="#e60012" />
);

const ZLegend = ({ x, id }: { x: number; id: string }) => (
  <>
    <defs>
      <linearGradient id={id}>
        <stop offset="0" stopColor="#00ffff" />
        <stop offset="0.5" stopColor="#000" />
        <stop offset="1" stopColor="#ffff00" />
      </linearGradient>
    </defs>
    <rect x={x} y={606} width={82} height={7.5} fill={`url(#${id})`} stroke="#555" strokeWidth={0.5} />
    <T x={x + 43} y={602} anchor="middle">Z-score</T>
    <T x={x - 2} y={631} anchor="middle">-2</T>
    <T x={x + 42} y={631} anchor="middle">0</T>
    <T x={x + 81} y={631} anchor="middle">2</T>
  </>
);

const Letter = ({ x, y, children, size = 25 }: any) => <T x={x} y={y} size={size} weight="bold" fill="#000">{children}</T>;
const Lines = ({ x, ys, lines, anchor }: any) => (
  <>{lines.map((l: string, i: number) => <T key={l} x={x} y={ys[i]} anchor={anchor}>{l}</T>)}</>
);

const Labels = () => (
  <svg width={1280} height={1197} style={{ position: 'absolute', left: 0, top: 0, pointerEvents: 'none' }}>
    {/* A */}
    <Letter x={0} y={127}>A</Letter>
    <Lines x={52} ys={[120, 141]} lines={['Expression of', '469 KZFPs']} />
    <T x={73} y={195} rot={-90}>SG</T>
    <T x={105} y={195} rot={-90}>PriSC</T>
    <T x={138} y={195} rot={-90}>RS</T>
    <text x={158} y={174} fontSize={18.4} fontFamily={FONT} fill={INK}><tspan fontStyle="italic">k</tspan>-means</text>
    <T x={158} y={192}>cluster</T>
    <Lines x={170} ys={[231, 249, 268]} lines={['Class I:', 'SG-enriched', '118 KZFPs']} />
    <Lines x={171} ys={[367, 386, 404]} lines={['Class II:', 'PriSc-enriched', '211 KZFPs']} />
    <Lines x={173} ys={[499, 518, 536]} lines={['Class III:', 'RS-enriched', '141 KZFPs']} />
    <RedArrow x={83} />
    <Lines x={84} ys={[623, 641]} anchor="middle" lines={['Mitosis-to-meiosis', 'transition']} />
    <ZLegend x={178} id="zA" />
    {/* B */}
    <Letter x={276} y={127}>B</Letter>
    <Lines x={321} ys={[120, 141]} lines={['Expression of', '1,154 TE types']} />
    <T x={342} y={197} rot={-90}>SG</T>
    <T x={374} y={197} rot={-90}>PriSC</T>
    <T x={407} y={197} rot={-90}>RS</T>
    <Lines x={441} ys={[228, 247]} lines={['LINE', '163 Types']} />
    <Lines x={441} ys={[367, 386]} lines={['ERV', '582 Types']} />
    <Lines x={441} ys={[447, 466]} lines={['SINE', '41 Types']} />
    <Lines x={441} ys={[532, 550]} lines={['Others', '368 Types']} />
    <RedArrow x={352} />
    <Lines x={353} ys={[623, 641]} anchor="middle" lines={['Mitosis-to-meiosis', 'transition']} />
    <ZLegend x={445} id="zB" />
    {/* C */}
    <Letter x={566} y={127}>C</Letter>
    <T x={716} y={120} anchor="middle">Human analysis</T>
    <Flow />
    <T x={806} y={444} anchor="middle">KZFPs</T>
    <T x={806} y={465} anchor="middle">ChIP-exo analysis</T>
    <T x={809} y={564} anchor="middle">RNA-seq analysis</T>
    {/* D */}
    <Letter x={901} y={28}>D</Letter>
    <Lines x={945} ys={[16, 36]} lines={['Genomic annotation of ERVs targeted', 'by 62 KZFPs: 16,998 loci']} />
    {pieNames.map((n, i) => (
      <g key={n}>
        <rect x={1054} y={54 + i * 21.3} width={13} height={13} fill={pieColors[i]} />
        <T x={1076} y={66 + i * 21.3}>{`${n} (${pieLabels[i]})`}</T>
      </g>
    ))}
    {/* E */}
    <Letter x={901} y={248}>E</Letter>
    <T x={945} y={239}>Cumulative number of ERVs</T>
    <T x={936} y={335} anchor="middle" rot={-90}>Numbers of</T>
    <T x={953} y={335} anchor="middle" rot={-90}>ERV loci (n)</T>
    <circle cx={1029} cy={268} r={5} fill="#000" />
    <circle cx={1029} cy={289} r={5} fill="#a8a8a8" />
    <T x={1040} y={274}>observed</T>
    <T x={1040} y={295}>random</T>
    <text x={1073} y={330} fontSize={17.5} fontFamily={FONT} fill={INK}>p &lt;2.2e<tspan dy={-6} fontSize={10.5}>-16</tspan></text>
    <T x={1127} y={452} anchor="middle">Distance from TSS of</T>
    <T x={1123} y={474} anchor="middle">adjacent gene (bp)</T>
    {/* F */}
    <Letter x={901} y={520}>F</Letter>
    <Lines x={945} ys={[510, 531, 552]} lines={['Distribution of distances between', 'nonintronic ERVs and adjacent TSSs', '(7,579 loci)']} />
    <T x={936} y={640} anchor="middle" rot={-90}>Numbers of</T>
    <T x={953} y={640} anchor="middle" rot={-90}>ERV loci (n)</T>
    {/* G-J */}
    <Letter x={89} y={832}>G</Letter>
    <T x={214} y={828} anchor="middle" size={21} len={122}>ERVs ~ ±1kb</T>
    <T x={214} y={853} anchor="middle" size={21} len={86}>(300 loci)</T>
    <T x={92} y={886} size={16} len={48}>r =0.61</T>
    <T x={92} y={904} size={16} len={77}>p&lt; 1.0E-30</T>
    <Letter x={369} y={832}>H</Letter>
    <T x={499} y={828} anchor="middle" size={21} len={174}>ERVs ±1kb~±10kb</T>
    <T x={499} y={853} anchor="middle" size={21} len={104}>(2,283 loci)</T>
    <T x={386} y={886} size={16} len={48}>r =0.32</T>
    <T x={386} y={904} size={16} len={77}>p&lt; 1.0E-57</T>
    <Letter x={650} y={832}>I</Letter>
    <T x={782} y={828} anchor="middle" size={21} len={197}>ERVs ±10kb~±100kb</T>
    <T x={782} y={853} anchor="middle" size={21} len={104}>(4,412 loci)</T>
    <T x={675} y={886} size={16} len={48}>r =0.26</T>
    <T x={675} y={904} size={16} len={77}>p&lt; 1.0E-66</T>
    <Letter x={962} y={832}>J</Letter>
    <T x={1086} y={828} anchor="middle" size={21} len={146}>ERVs ±100kb ~</T>
    <T x={1086} y={853} anchor="middle" size={21} len={86}>(584 loci)</T>
    <T x={969} y={886} size={16} len={48}>r =0.15</T>
    <T x={969} y={904} size={16} len={74}>p=0.00025</T>
    <T x={36} y={1000} anchor="middle" rot={-90}>Fold changes of adjacent gene</T>
    <text x={60} y={1000} fontSize={18.4} fontFamily={FONT} fill={INK} textAnchor="middle" transform="rotate(-90 60 1000)">log<tspan dy={4} fontSize={11}>2</tspan><tspan dy={-4}>(PriSC/SG)</tspan></text>
    <T x={628} y={1164} anchor="middle">Fold change of nonintronic ERVs</T>
    <text x={628} y={1186} fontSize={18.4} fontFamily={FONT} fill={INK} textAnchor="middle">log<tspan dy={4} fontSize={11}>2</tspan><tspan dy={-4}>(PriSC/SG)</tspan></text>
  </svg>
);

export default function App() {
  return (
    <div style={{ position: 'absolute', left: 0, top: 0, width: 1280, height: 1197, background: '#fff', overflow: 'hidden', fontFamily: FONT }}>
      <Heatmap left={51} top={200} width={97} height={379} sg={heatA_SG} pri={heatA_PriSC} rs={heatA_RS} grayRows={grayRowsA} fadedRows={fadedRowsA} />
      <SideBar left={156} top={200} width={8} height={379} items={sideBarsA} />
      <Heatmap left={322} top={202} width={94} height={377} sg={heatB_SG} pri={heatB_PriSC} rs={heatB_RS} />
      <SideBar left={424} top={202} width={9} height={377} items={sideBarsB} />
      <AnnotationPie />
      <CumulativeChart />
      <DistanceBars />
      <FoldPanel x0={86.5} y0={880} data={toXY(pointsG)} trend={trendG} />
      <FoldPanel x0={378} y0={880} data={[...fromRows(coreH), ...toXY(outliersH)]} trend={trendH} />
      <FoldPanel x0={671} y0={879} data={[...fromRows(coreI), ...toXY(outliersI)]} trend={trendI} />
      <FoldPanel x0={962} y0={880} data={toXY(pointsJ)} trend={trendJ} />
      <Labels />
    </div>
  );
}
